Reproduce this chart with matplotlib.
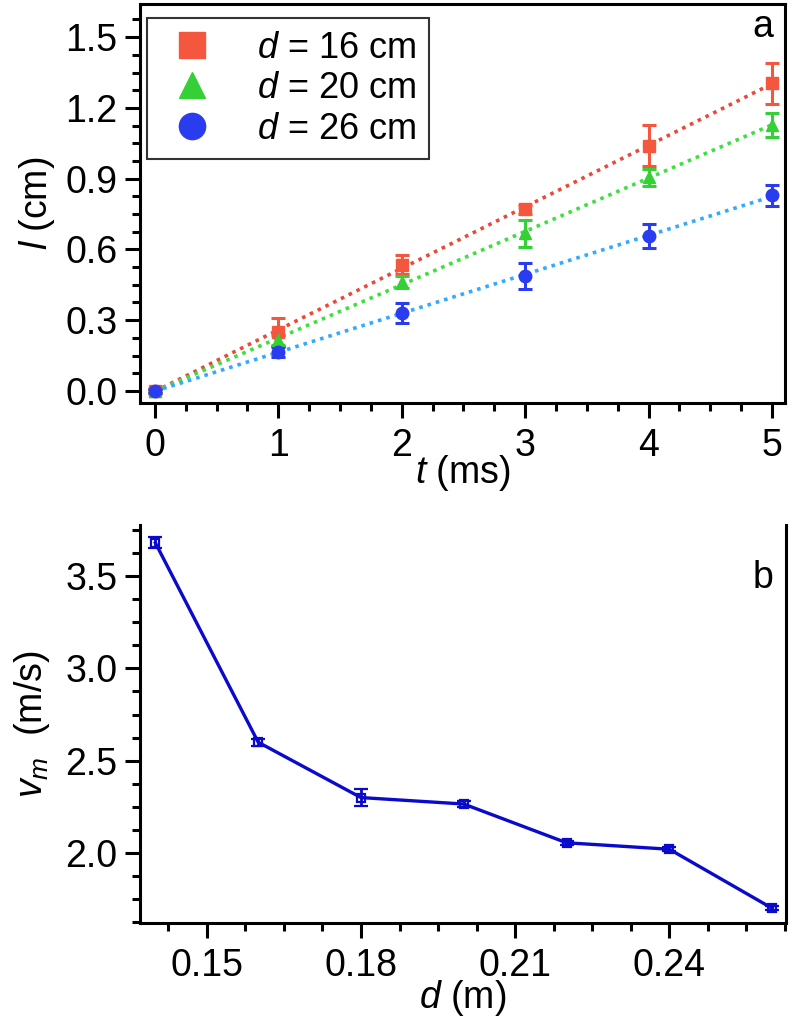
import matplotlib
matplotlib.use("Agg")
import matplotlib.pyplot as plt
from matplotlib.ticker import MultipleLocator
import numpy as np

plt.rcParams['font.family'] = ['Liberation Sans', 'DejaVu Sans']
plt.rcParams['mathtext.fontset'] = 'custom'
plt.rcParams['mathtext.rm'] = 'Liberation Sans'
plt.rcParams['mathtext.it'] = 'Liberation Sans:italic'

# panel a data
t = [0, 1, 2, 3, 4, 5]
l_16 = [0.0, 0.25, 0.535, 0.77, 1.04, 1.305]
e_16 = [0.01, 0.06, 0.04, 0.02, 0.088, 0.087]
l_20 = [0.0, 0.216, 0.462, 0.668, 0.905, 1.128]
e_20 = [0.01, 0.02, 0.025, 0.058, 0.035, 0.052]
l_26 = [0.0, 0.166, 0.33, 0.487, 0.657, 0.83]
e_26 = [0.01, 0.02, 0.042, 0.055, 0.05, 0.045]
labels_a = ['$d$ = 16 cm', '$d$ = 20 cm', '$d$ = 26 cm']

# panel b data
d = [0.14, 0.16, 0.18, 0.20, 0.22, 0.24, 0.26]
vm = [3.68, 2.60, 2.30, 2.265, 2.055, 2.02, 1.70]
vm_err = [0.03, 0.02, 0.045, 0.015, 0.012, 0.01, 0.01]

fs = 27
fig = plt.figure(figsize=(7.93, 10.28), dpi=100)

def style_axis(ax):
    for s in ax.spines.values():
        s.set_linewidth(2.2)
    ax.tick_params(which='major', direction='out', length=11, width=2.2,
                   labelsize=fs, pad=5)
    ax.tick_params(which='minor', direction='out', length=6, width=2.2)
    ax.tick_params(axis='x', which='major', pad=7)

# ---- panel a ----
ax1 = fig.add_axes([0.1765, 0.608, 0.8134, 0.388])
series = [(l_16, e_16, 's', '#f4573d', '#e84a3a'),
          (l_20, e_20, '^', '#35d035', '#3ee03e'),
          (l_26, e_26, 'o', '#2a3cf0', '#33aaff')]
for (vals, errs, mk, col, lcol), lab in zip(series, labels_a):
    k, b = np.polyfit(t, vals, 1)
    tt = np.array([0, 5])
    ax1.plot(tt, k * tt + b, color=lcol, lw=2.6, ls=(0, (1, 1.4)), zorder=1)
    ax1.errorbar(t, vals, yerr=errs, fmt='none', ecolor=col, elinewidth=2.2,
                 capsize=5, capthick=2.2, zorder=2)
    ax1.plot(t, vals, mk, color=col, ms=9, ls='none', label=lab, zorder=3)

ax1.set_xlim(-0.12, 5.105)
ax1.set_ylim(-0.051, 1.64)
ax1.xaxis.set_major_locator(MultipleLocator(1))
ax1.xaxis.set_minor_locator(MultipleLocator(0.25))
ax1.yaxis.set_major_locator(MultipleLocator(0.3))
ax1.yaxis.set_minor_locator(MultipleLocator(0.075))
ax1.yaxis.set_major_formatter(plt.FormatStrFormatter('%.1f'))
style_axis(ax1)
ax1.set_xlabel('$t$ (ms)', fontsize=fs, labelpad=-8)
ax1.set_ylabel('$l$ (cm)', fontsize=fs, labelpad=6)
ax1.text(0.965, 0.942, 'a', transform=ax1.transAxes, fontsize=fs,
         ha='center', va='center')
leg = ax1.legend(loc='upper left', bbox_to_anchor=(0.011, 0.965),
                 borderaxespad=0, fontsize=26, markerscale=2.1,
                 fancybox=False, edgecolor='black', handletextpad=0.9,
                 handlelength=1.8, labelspacing=0.15, borderpad=0.35)
leg.get_frame().set_linewidth(1.5)

# ---- panel b ----
ax2 = fig.add_axes([0.1765, 0.1021, 0.8147, 0.387])
ax2.errorbar(d, vm, yerr=vm_err, color='#0a0acc', lw=2.4, marker='s', ms=6,
             mfc='none', mec='#0a0acc', mew=1.6, capsize=5, capthick=2,
             elinewidth=2)
ax2.set_xlim(0.137, 0.2627)
ax2.set_ylim(1.62, 3.776)
ax2.xaxis.set_major_locator(MultipleLocator(0.03))
ax2.xaxis.set_minor_locator(MultipleLocator(0.0075))
ax2.yaxis.set_major_locator(MultipleLocator(0.5))
ax2.yaxis.set_minor_locator(MultipleLocator(0.125))
ax2.xaxis.set_major_formatter(plt.FormatStrFormatter('%.2f'))
ax2.yaxis.set_major_formatter(plt.FormatStrFormatter('%.1f'))
ax2.spines['top'].set_visible(False)
style_axis(ax2)
ax2.set_xlabel('$d$ (m)', fontsize=fs, labelpad=-4)
ax2.set_ylabel('$v_m$  (m/s)', fontsize=fs, labelpad=10)
ax2.text(0.965, 0.867, 'b', transform=ax2.transAxes, fontsize=fs,
         ha='center', va='center')

fig.savefig('out.png', dpi=100)
